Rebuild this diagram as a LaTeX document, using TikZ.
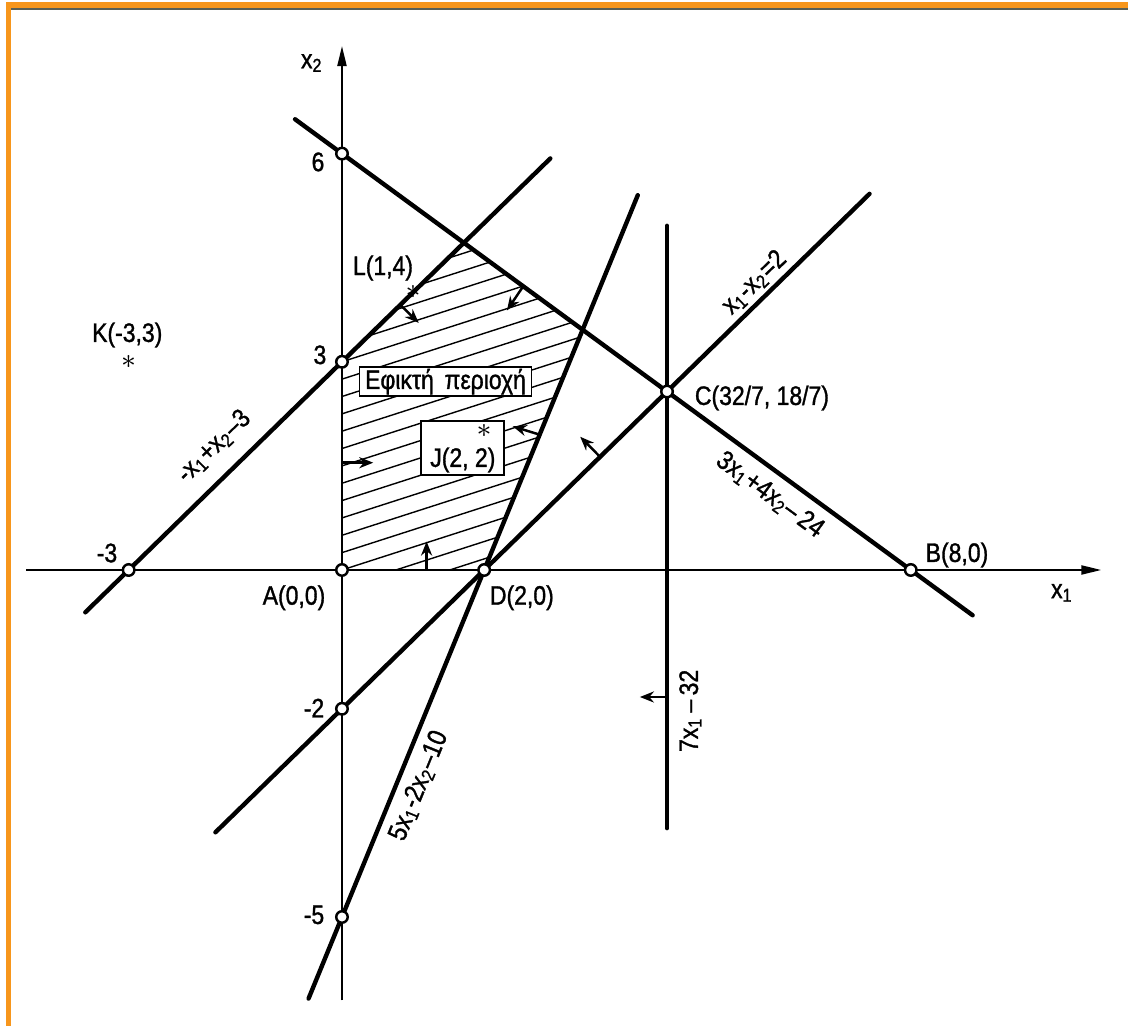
\documentclass[tikz,border=0pt]{standalone}
\usepackage{fontspec}
\setmainfont{Liberation Sans}[FakeStretch=0.86, FakeBold=1.2]
\usepackage{tikz}
\usetikzlibrary{positioning, arrows.meta, calc}
\definecolor{ScanOrange}{HTML}{F7961C}
\definecolor{ScanDark}{HTML}{5A5F55}
\newcommand{\xv}[1]{x\textsubscript{#1}}
\tikzset{
  bline/.style={line width=1.25pt, line cap=round},
  axisline/.style={line width=0.6pt},
  hatchline/.style={line width=0.4pt},
  vertex/.style={circle, draw, line width=0.7pt, fill=white, inner sep=0pt, minimum size=1.15mm},
  push/.style={line width=0.7pt, -{Stealth[length=1.4mm, width=1.1mm]}},
  tag/.style={font=\fontsize{7.6}{9}\selectfont, inner sep=0.5pt},
  regionbox/.style={draw, line width=0.55pt, fill=white, inner sep=0pt},
}

\begin{document}
\begin{tikzpicture}[x=0.711cm, y=0.694cm]
  \useasboundingbox (-4.810,-6.571) rectangle (11.055,8.213);
  % frame of the scan
  \fill[ScanOrange] (-4.726,-6.571) rectangle (-4.655,8.184);
  \fill[ScanOrange] (-4.726,8.184) rectangle (11.055,8.098);
  \draw[ScanDark, line width=0.5pt] (-4.655,8.085) -- (11.055,8.085);

  \coordinate (A) at (0,0);
  \coordinate (D) at (2,0);
  \coordinate (B) at (8,0);
  \coordinate (C) at (32/7,18/7);
  \coordinate (Q) at (44/13,45/13);
  \coordinate (R) at (12/7,33/7);
  \coordinate (P3) at (0,3);
  \coordinate (P6) at (0,6);
  \coordinate (Pm2) at (0,-2);
  \coordinate (Pm3) at (-3,0);
  \coordinate (Pm5) at (0,-5);

  % feasible region
  \begin{scope}
    \clip (A) -- (D) -- (Q) -- (R) -- (P3) -- cycle;
    \foreach \b in {-1.25,-1,...,4.25}
      \draw[hatchline] (-0.5,\b-0.165) -- (4,\b+1.32);
  \end{scope}

  % axes
  \coordinate (x1s) at (-4.44,0);
  \coordinate (x1e) at (10.68,0);
  \coordinate (x2s) at (0,-6.2);
  \coordinate (x2e) at (0,7.55);
  \draw[axisline, -{Triangle[length=2mm, width=0.9mm]}] (x1s) -- (x1e);
  \draw[axisline, -{Triangle[length=2mm, width=0.9mm]}] (x2s) -- (x2e);

  % constraints
  \coordinate (l1a) at (-3.61,-0.61);
  \coordinate (l1b) at (2.93,5.93);
  \coordinate (l2a) at (-0.66,6.495);
  \coordinate (l2b) at (8.87,-0.6525);
  \coordinate (l3a) at (-1.78,-3.78);
  \coordinate (l3b) at (7.42,5.42);
  \coordinate (l4a) at (-0.47,-6.175);
  \coordinate (l4b) at (4.16,5.40);
  \coordinate (l5a) at (32/7,-3.72);
  \coordinate (l5b) at (32/7,4.96);
  \foreach \a/\b in {l1a/l1b, l2a/l2b, l3a/l3b, l4a/l4b, l5a/l5b}
    \draw[bline] (\a) -- (\b);

  % sides of the constraints
  \coordinate (s1t) at (0.82,3.82);
  \coordinate (s1h) at (1.08,3.56);
  \coordinate (s2t) at (2.55,4.09);
  \coordinate (s2h) at (2.32,3.74);
  \coordinate (s3t) at (2.78,1.95);
  \coordinate (s3h) at (2.40,2.07);
  \coordinate (s4t) at (3.63,1.63);
  \coordinate (s4h) at (3.35,1.92);
  \coordinate (s5t) at (32/7,-1.83);
  \coordinate (s5h) at (4.19,-1.83);
  \coordinate (s6t) at (1.19,0);
  \coordinate (s6h) at (1.19,0.41);
  \coordinate (s7t) at (0,1.546);
  \coordinate (s7h) at (0.44,1.546);
  \foreach \i in {1,...,7}
    \draw[push] (s\i t) -- (s\i h);

  \node[regionbox, minimum width=1.72cm, minimum height=0.29cm] (feas) at (1.456,2.713)
    {\fontsize{7.6}{9}\selectfont Εφικτή\, περιοχή};
  \node[regionbox, minimum width=0.83cm, minimum height=0.54cm] (jbox) at (1.693,1.759) {};

  \foreach \p in {A,D,B,C,P3,P6,Pm2,Pm3,Pm5}
    \node[vertex] (v\p) at (\p) {};

  % labels
  \node[tag] (lab6) at (-0.338,5.88) {6};
  \node[tag] (lab3) at (-0.31,3.10) {3};
  \node[tag] (labm3) at (-3.305,0.245) {-3};
  \node[tag] (labm2) at (-0.394,-1.99) {-2};
  \node[tag] (labm5) at (-0.394,-4.97) {-5};
  \node[tag] (labA) at (-0.675,-0.40) {A(0,0)};
  \node[tag] (labD) at (2.53,-0.40) {D(2,0)};
  \node[tag] (labB) at (8.65,0.216) {B(8,0)};
  \node[tag] (labC) at (5.907,2.478) {C(32/7, 18/7)};
  \node[tag] (labx1) at (10.13,-0.33) {\xv{1}};
  \node[tag] (labx2) at (-0.42,7.305) {\xv{2}};
  \node[tag] (starK) at (-3,3) {$\ast$};
  \node[tag] (labK) at (-3.02,3.386) {K(-3,3)};
  \node[tag] (starL) at (1,4) {$\ast$};
  \node[tag] (labL) at (0.577,4.35) {L(1,4)};
  \node[tag] (starJ) at (2,2) {$\ast$};
  \node[tag] (labJ) at (1.70,1.585) {J(2, 2)};

  \node[tag, rotate=44.35] (eq1) at (-1.80,1.78) {-\xv{1}+\xv{2}--3};
  \node[tag, rotate=-36.24] (eq2) at (6.02,1.081) {3\xv{1}+4\xv{2}--\,24};
  \node[tag, rotate=44.35] (eq3) at (5.80,4.14) {\xv{1}-\xv{2}=2};
  \node[tag, rotate=67.75] (eq4) at (1.08,-3.11) {5\xv{1}-2\xv{2}--10};
  \node[tag, rotate=90] (eq5) at (4.90,-2.03) {7\xv{1}\,--\,32};
\end{tikzpicture}
\end{document}
